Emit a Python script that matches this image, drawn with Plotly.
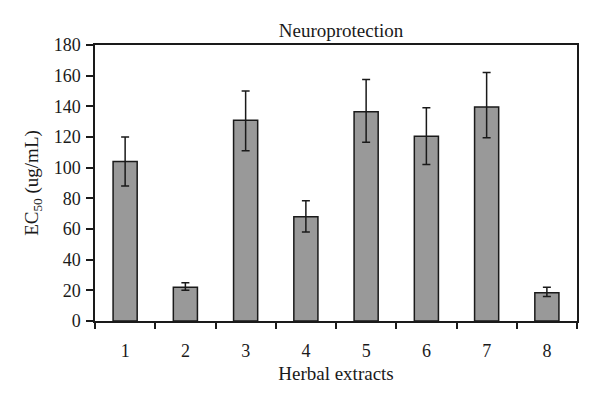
import plotly.graph_objects as go

categories = ["1", "2", "3", "4", "5", "6", "7", "8"]
ec50 = [104, 22, 131, 68, 136.5, 120.5, 139.5, 18.5]
err_plus = [16, 3, 19, 10.5, 21, 18.5, 22.5, 3.5]
err_minus = [16, 2, 20, 10, 20, 18.5, 20, 2.5]

serif = "Liberation Serif, Times New Roman, serif"
ink = "#1a1a1a"

fig = go.Figure(
    go.Bar(
        x=categories,
        y=ec50,
        width=0.4,
        marker=dict(color="#999999", line=dict(color=ink, width=1.5)),
        error_y=dict(
            type="data",
            symmetric=False,
            array=err_plus,
            arrayminus=err_minus,
            color=ink,
            thickness=1.5,
            width=4,
        ),
    )
)

# page body adds ~8px offset, so the figure is 592x392 and margins compensate
fig.update_layout(
    width=592,
    height=392,
    margin=dict(l=87, r=23, t=37, b=79, autoexpand=False),
    paper_bgcolor="white",
    plot_bgcolor="white",
    showlegend=False,
    font=dict(family=serif, size=18, color=ink),
    title=dict(
        text="Neuroprotection",
        x=(341 - 8) / 592,
        xanchor="center",
        y=1 - (30 - 8) / 392,
        yanchor="middle",
        font=dict(family=serif, size=19, color=ink),
    ),
)

fig.update_xaxes(
    type="category",
    showline=True,
    linecolor=ink,
    linewidth=1.5,
    mirror=True,
    ticks="outside",
    tickson="boundaries",
    ticklen=6,
    tickwidth=1.5,
    tickcolor=ink,
    showgrid=False,
    ticklabelstandoff=13,
    title=dict(text="Herbal extracts", standoff=6, font=dict(family=serif, size=19)),
    tickfont=dict(family=serif, size=18),
)

fig.update_yaxes(
    range=[0, 180],
    dtick=20,
    showline=True,
    linecolor=ink,
    linewidth=1.5,
    mirror=True,
    ticks="outside",
    ticklen=7,
    tickwidth=1.5,
    tickcolor=ink,
    showgrid=False,
    zeroline=False,
    ticklabelstandoff=2,
    title=dict(text="EC<sub>50</sub> (ug/mL)", standoff=10, font=dict(family=serif, size=19)),
    tickfont=dict(family=serif, size=18),
)

fig.write_html("out.html")
